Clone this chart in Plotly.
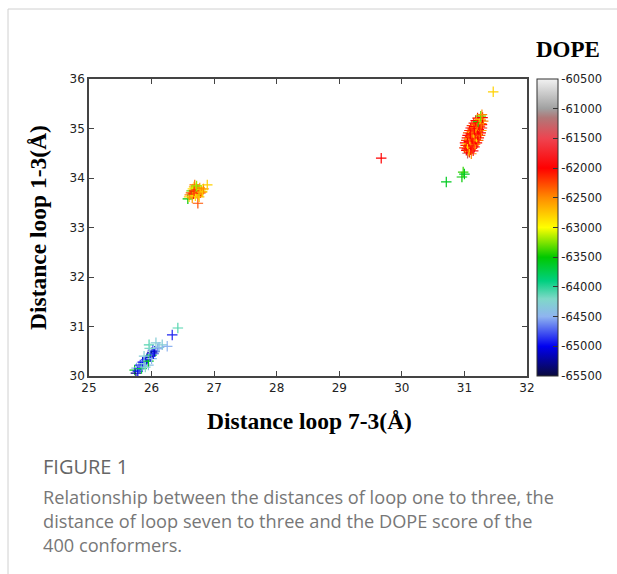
import plotly.graph_objects as go

# ---- data ----
x_blue = [25.73, 25.75, 25.76, 25.78, 25.80, 25.82, 25.84, 25.85, 25.86, 25.88, 25.90, 25.90,
          25.92, 25.93, 25.95, 25.95, 25.96, 25.98, 26.00, 26.00, 26.01, 26.02, 26.03, 26.05,
          26.07, 26.10, 26.12, 26.17, 26.25, 26.33, 26.42, 25.88, 25.97]
y_blue = [30.12, 30.06, 30.16, 30.10, 30.15, 30.22, 30.15, 30.20, 30.28, 30.25, 30.30, 30.18,
          30.33, 30.36, 30.22, 30.30, 30.63, 30.40, 30.42, 30.35, 30.48, 30.52, 30.45, 30.50,
          30.67, 30.55, 30.58, 30.63, 30.60, 30.83, 30.97, 30.40, 30.56]
d_blue = [-63600, -65300, -64400, -65000, -64800, -64900, -63700, -64600, -65000, -64300, -64700, -64200,
          -64900, -65100, -64400, -63600, -64100, -64900, -63700, -64500, -65200, -64700, -64900, -65100,
          -64300, -64600, -64400, -64300, -64500, -64900, -64100, -64300, -64200]

x_yel = [26.58, 26.60, 26.61, 26.63, 26.64, 26.65, 26.66, 26.67, 26.68, 26.69, 26.70, 26.70,
         26.71, 26.72, 26.73, 26.74, 26.74, 26.75, 26.76, 26.77, 26.78, 26.79, 26.80, 26.81,
         26.83, 26.89, 26.68, 26.72, 26.76]
y_yel = [33.58, 33.62, 33.66, 33.70, 33.74, 33.60, 33.78, 33.68, 33.82, 33.86, 33.72, 33.64,
         33.80, 33.76, 33.70, 33.76, 33.49, 33.66, 33.74, 33.80, 33.70, 33.76, 33.72, 33.72,
         33.78, 33.86, 33.74, 33.84, 33.62]
d_yel = [-63500, -62800, -62500, -62300, -63300, -62600, -62900, -62100, -62700, -62400, -62000, -62900,
         -63100, -62300, -62500, -62200, -62300, -62800, -63300, -62600, -62100, -62900, -62400, -62800,
         -62500, -62800, -62200, -63200, -62700]

x_red = [31.05, 31.08, 31.11,
         31.03, 31.07, 31.10, 31.14,
         31.00, 31.04, 31.08, 31.12, 31.16,
         31.02, 31.06, 31.10, 31.13, 31.17,
         31.01, 31.05, 31.09, 31.12, 31.16, 31.20,
         31.03, 31.07, 31.10, 31.14, 31.18, 31.22,
         31.04, 31.08, 31.12, 31.15, 31.19, 31.23,
         31.05, 31.09, 31.13, 31.17, 31.21, 31.25,
         31.06, 31.10, 31.14, 31.18, 31.22, 31.26,
         31.08, 31.12, 31.16, 31.19, 31.23, 31.27,
         31.10, 31.14, 31.18, 31.21, 31.25, 31.28,
         31.12, 31.16, 31.20, 31.24, 31.28,
         31.15, 31.19, 31.23, 31.27,
         31.18, 31.22, 31.26, 31.30,
         31.21, 31.25, 31.29,
         31.26, 31.28]
y_red = [34.50, 34.52, 34.49,
         34.56, 34.54, 34.57, 34.55,
         34.61, 34.59, 34.62, 34.60, 34.63,
         34.66, 34.64, 34.67, 34.65, 34.68,
         34.71, 34.69, 34.72, 34.70, 34.73, 34.71,
         34.76, 34.74, 34.77, 34.75, 34.78, 34.76,
         34.81, 34.79, 34.82, 34.80, 34.83, 34.81,
         34.86, 34.84, 34.87, 34.85, 34.88, 34.86,
         34.91, 34.89, 34.92, 34.90, 34.93, 34.91,
         34.96, 34.94, 34.97, 34.95, 34.98, 34.96,
         35.01, 34.99, 35.02, 35.00, 35.03, 35.01,
         35.06, 35.04, 35.07, 35.05, 35.08,
         35.11, 35.09, 35.12, 35.10,
         35.16, 35.14, 35.17, 35.15,
         35.21, 35.19, 35.22,
         35.25, 35.28]
d_red = [-61300, -62100, -62500,
         -62000, -62600, -62100, -61800,
         -62200, -62000, -62700, -62100, -61900,
         -62100, -62400, -62000, -62200, -62600,
         -62000, -62800, -62100, -61900, -62300, -62000,
         -62200, -62000, -62500, -62100, -62000, -62400,
         -62100, -62600, -62000, -62200, -62900, -62100,
         -62000, -62200, -62100, -62500, -62000, -62300,
         -62300, -62000, -62800, -62100, -62200, -62000,
         -62100, -62400, -62000, -62200, -62000, -62600,
         -62000, -62200, -62500, -62000, -62300, -62100,
         -62200, -62000, -62700, -62100, -62000,
         -62100, -62300, -62000, -62400,
         -62000, -63400, -62200, -62500,
         -62100, -62800, -62000,
         -63300, -62500]

x_out = [31.46, 29.67, 30.71, 30.96, 30.98, 31.00]
y_out = [35.74, 34.40, 33.92, 34.02, 34.12, 34.08]
d_out = [-62800, -62000, -63600, -63500, -63400, -63600]

x_all = x_blue + x_yel + x_red + x_out
y_all = y_blue + y_yel + y_red + y_out
d_all = d_blue + d_yel + d_red + d_out

x_ticks = [25, 26, 27, 28, 29, 30, 31, 32]
y_ticks = [30, 31, 32, 33, 34, 35, 36]
cb_ticks = [-60500, -61000, -61500, -62000, -62500, -63000, -63500, -64000, -64500, -65000, -65500]

palette = [
    [0.00, "#0a0a3c"],
    [0.10, "#0000f0"],
    [0.20, "#8fb4f0"],
    [0.26, "#7fd8c8"],
    [0.32, "#00d080"],
    [0.40, "#00c800"],
    [0.50, "#ffff00"],
    [0.60, "#ff8c00"],
    [0.70, "#ff0000"],
    [0.80, "#ee4450"],
    [0.87, "#b07878"],
    [0.90, "#a0a0a0"],
    [1.00, "#f2f2f2"],
]
CMIN, CMAX = -65500, -60500

# The figure is a little wider than the 617px window so the colour bar
# does not push the plot margin; the extra strip is clipped (overflow hidden).
W, H = 627, 574
L, T = 89, 79
R = W - 527
B = H - 376
pw, ph = W - L - R, H - T - B

def px(xp):
    return (xp - L) / pw

def py(yp):
    return (H - B - yp) / ph

fig = go.Figure()
fig.add_trace(go.Scatter(
    x=x_all, y=y_all, mode="markers",
    marker=dict(
        symbol="cross-thin", size=7.5,
        line=dict(width=1.2, color=d_all, colorscale=palette, cmin=CMIN, cmax=CMAX),
        color=d_all, colorscale=palette, cmin=CMIN, cmax=CMAX,
        showscale=True,
        colorbar=dict(
            thickness=21, lenmode="pixels", len=297, y=0.5, yanchor="middle",
            x=px(537), xanchor="left", xpad=0, ypad=0,
            outlinewidth=1, outlinecolor="#333",
            tickvals=cb_ticks, ticktext=[str(v) for v in cb_ticks],
            ticks="inside", ticklen=5, tickcolor="#333",
            tickfont=dict(family="DejaVu Sans", size=11.5, color="#222"),
        ),
    ),
    showlegend=False, hoverinfo="skip",
))

axis_common = dict(
    showgrid=False, zeroline=False, showline=True, linecolor="#444", linewidth=1.5,
    mirror="ticks", ticks="inside", ticklen=5, tickcolor="#444",
    tickfont=dict(family="DejaVu Sans", size=12, color="#222"),
)
fig.update_xaxes(range=[25, 32], tickvals=x_ticks, **axis_common)
fig.update_yaxes(range=[30, 36], tickvals=y_ticks, **axis_common)

annotations = [
    dict(text="<b>Distance loop 7-3(Å)</b>", x=px(309), y=py(421), xref="paper", yref="paper",
         showarrow=False, font=dict(family="Liberation Serif", size=23.5, color="#000"),
         xanchor="center", yanchor="middle"),
    dict(text="<b>Distance loop 1-3(Å)</b>", x=px(38), y=py(228), xref="paper", yref="paper",
         showarrow=False, textangle=-90, font=dict(family="Liberation Serif", size=23.5, color="#000"),
         xanchor="center", yanchor="middle"),
    dict(text="<b>DOPE</b>", x=px(568), y=py(50), xref="paper", yref="paper",
         showarrow=False, font=dict(family="Liberation Serif", size=23, color="#000"),
         xanchor="center", yanchor="middle"),
    dict(text="FIGURE 1", x=px(41), y=py(466), xref="paper", yref="paper",
         showarrow=False, font=dict(family="Open Sans", size=20, color="#666"),
         xanchor="left", yanchor="middle"),
]
caption = [
    "Relationship between the distances of loop one to three, the",
    "distance of loop seven to three and the DOPE score of the",
    "400 conformers.",
]
for i, line in enumerate(caption):
    annotations.append(dict(text=line, x=px(41), y=py(497 + 24 * i), xref="paper", yref="paper",
                            showarrow=False, font=dict(family="Open Sans", size=18.2, color="#777"),
                            xanchor="left", yanchor="middle"))

shapes = [
    dict(type="line", xref="paper", yref="paper", x0=px(8), x1=px(W), y0=py(9), y1=py(9),
         line=dict(color="#d0d0d0", width=1)),
    dict(type="line", xref="paper", yref="paper", x0=px(8), x1=px(8), y0=py(9), y1=py(574),
         line=dict(color="#d0d0d0", width=1)),
]

fig.update_layout(
    width=W, height=H, margin=dict(l=L, r=R, t=T, b=B),
    paper_bgcolor="white", plot_bgcolor="white",
    annotations=annotations, shapes=shapes,
)

fig.write_html("out.html", config={"displayModeBar": False},
               post_script="document.body.style.margin='0px';document.body.style.overflow='hidden';")
